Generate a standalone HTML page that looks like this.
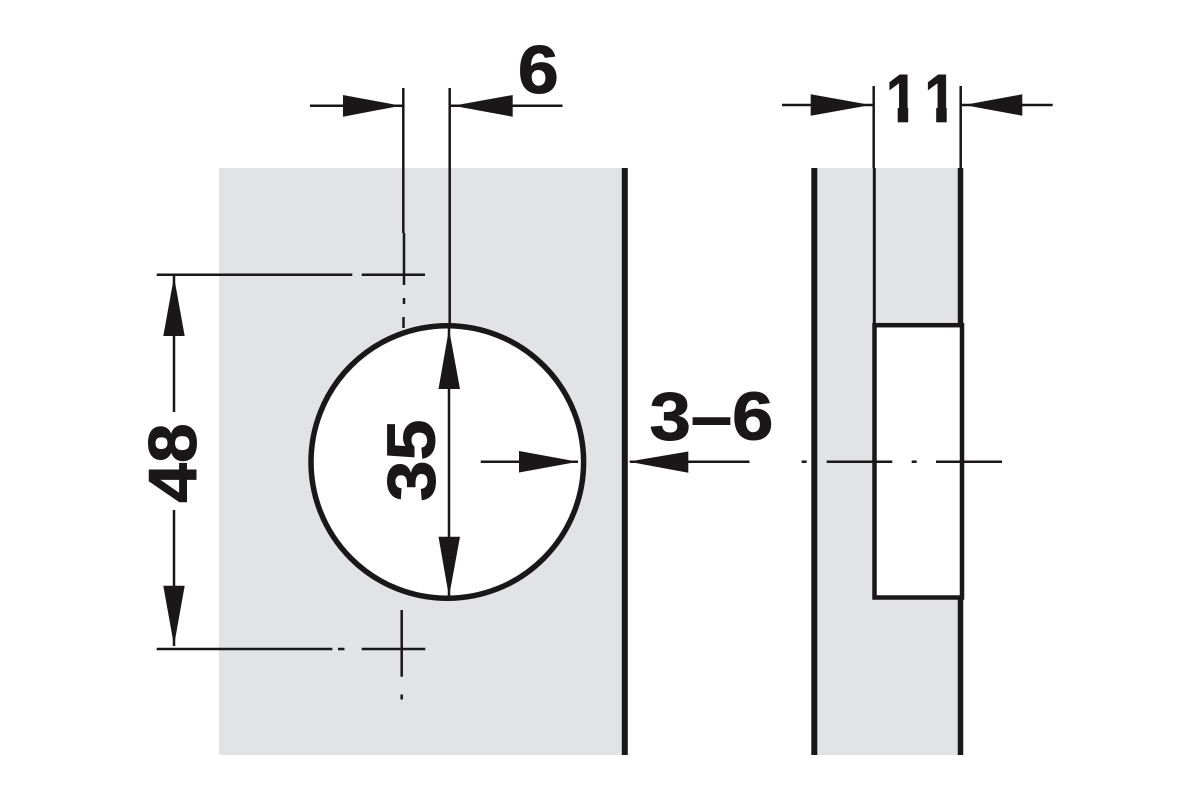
<!DOCTYPE html>
<html>
<head>
<meta charset="utf-8">
<style>
html,body{margin:0;padding:0;background:#fff;}
svg{display:block;}
text{font-family:"Liberation Sans",sans-serif;font-weight:bold;fill:#1a1718;stroke:#1a1718;stroke-width:1;}
</style>
</head>
<body>
<svg width="1200" height="800" viewBox="0 0 1200 800" xmlns="http://www.w3.org/2000/svg">
<defs>
<clipPath id="nofoot"><rect x="-20" y="-60" width="120" height="48"/></clipPath>
</defs>
<rect width="1200" height="800" fill="#fff"/>
<rect x="219" y="168" width="405" height="587" fill="#e2e3e5"/>
<rect x="815" y="168" width="145" height="587" fill="#e2e3e5"/>
<circle cx="447.300" cy="462" r="136.300" fill="#fff" stroke="#1a1718" stroke-width="5.500"/>
<rect x="874.500" y="325.200" width="87.500" height="272.300" fill="#fff" stroke="#1a1718" stroke-width="4.500"/>
<g stroke="#1a1718" fill="none">
<line x1="624.800" y1="168" x2="624.800" y2="755" stroke-width="6"/>
<line x1="814.300" y1="168" x2="814.300" y2="755" stroke-width="6"/>
<line x1="960.500" y1="168" x2="960.500" y2="325" stroke-width="5.500"/>
<line x1="960.500" y1="598" x2="960.500" y2="755" stroke-width="5.500"/>
<line x1="874.300" y1="168" x2="874.300" y2="325" stroke-width="3"/>
<g stroke-width="2.500">
<line x1="403.300" y1="88" x2="403.300" y2="233"/>
<line x1="404" y1="233" x2="404" y2="285"/>
<line x1="404" y1="298" x2="404" y2="304"/>
<line x1="403.500" y1="317" x2="403.500" y2="328"/>
<line x1="449.700" y1="88" x2="449.700" y2="325"/>
<line x1="310" y1="105.700" x2="403" y2="105.700"/>
<line x1="450" y1="105.700" x2="562.500" y2="105.700"/>
<line x1="156.700" y1="274.700" x2="352.300" y2="274.700"/>
<line x1="361.700" y1="274.700" x2="425" y2="274.700"/>
<line x1="156.700" y1="649" x2="332.300" y2="649"/>
<line x1="338" y1="649" x2="344.500" y2="649"/>
<line x1="361.700" y1="649" x2="425.300" y2="649"/>
<line x1="401.700" y1="610" x2="401.700" y2="676.700"/>
<line x1="401.700" y1="694.500" x2="401.700" y2="699.500"/>
<line x1="174" y1="276" x2="174" y2="412"/>
<line x1="174" y1="510" x2="174" y2="646"/>
<line x1="449" y1="328" x2="449" y2="597"/>
<line x1="480.700" y1="461.700" x2="578" y2="461.700"/>
<line x1="630" y1="461.700" x2="749.500" y2="461.700"/>
<line x1="801.700" y1="461.700" x2="806.700" y2="461.700"/>
<line x1="826.700" y1="461.700" x2="892.300" y2="461.700"/>
<line x1="911.700" y1="461.700" x2="916.700" y2="461.700"/>
<line x1="936" y1="461.700" x2="1002" y2="461.700"/>
<line x1="873.700" y1="86" x2="873.700" y2="168"/>
<line x1="960.700" y1="86" x2="960.700" y2="168"/>
<line x1="782" y1="105" x2="873" y2="105"/>
<line x1="961" y1="105" x2="1052.700" y2="105"/>
</g>
</g>
<g fill="#1a1718">
<polygon points="401,105.700 343,95 343,116.700"/>
<polygon points="453,105.700 512.700,95 512.700,116.700"/>
<polygon points="870.700,105 810.700,94.300 810.700,115.700"/>
<polygon points="964,105 1022.300,94.300 1022.300,115.700"/>
<polygon points="174,276.700 163.300,336 184.700,336"/>
<polygon points="174,645.700 163.300,585.700 184.700,585.700"/>
<polygon points="449,329 438.500,389 460,389"/>
<polygon points="449,596.700 438.500,536.700 460,536.700"/>
<polygon points="578,461.700 519,451 519,472.500"/>
<polygon points="628.300,461.700 688.300,451.500 688.300,472.700"/>
<rect x="897.700" y="108" width="10.500" height="14.300"/>
<rect x="936.200" y="108" width="10.500" height="14.300"/>
</g>
<text transform="translate(538.300,93) scale(1.08,1)" font-size="68" text-anchor="middle">6</text>
<text transform="translate(885.600,122) scale(.85,1)" x="0 45.300" y="0" font-size="69" clip-path="url(#nofoot)" style="stroke-width:.6">11</text>
<text transform="translate(711.500,439.700) scale(1.09,1)" font-size="68" text-anchor="middle">3–6</text>
<text transform="translate(196,463) rotate(-90) scale(1.05,1)" font-size="68" text-anchor="middle">48</text>
<text transform="translate(434.500,460.500) rotate(-90) scale(1.08,1)" font-size="68" text-anchor="middle">35</text>
</svg>
</body>
</html>
